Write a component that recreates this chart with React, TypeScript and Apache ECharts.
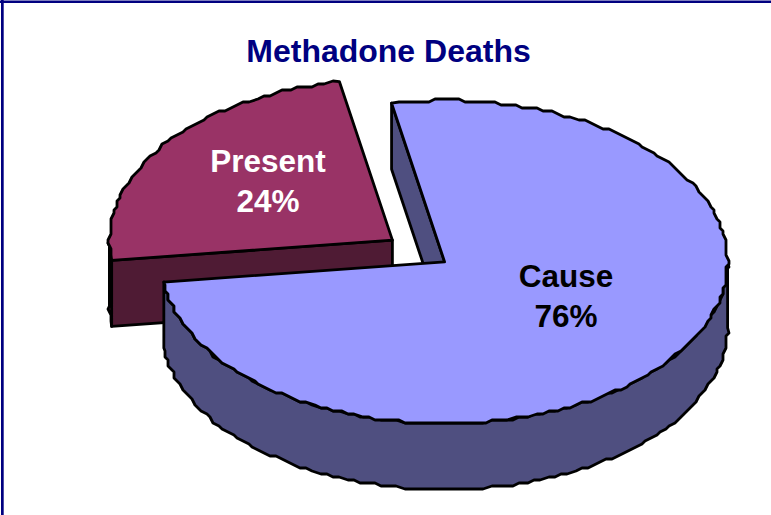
import React, { useEffect, useRef } from "react";
import * as echarts from "echarts";

const titleText = "Methadone Deaths";
const categories = ["Cause", "Present"];
const values = [76, 24];

const topColors = ["#9999FF", "#993366"];
const sideColors = ["#4F4F80", "#4F1B34"];
const labelColors = ["#000000", "#FFFFFF"];
const labelPositions: number[][] = [
  [566, 296],
  [268, 181],
];

const FONT = '"Liberation Sans", Arial, sans-serif';
const W = 771;
const H = 515;
const CX = 418.5;
const CY = 251;
const RX = 283;
const RY = 161.5;
const DEPTH = 66;
const EXPLODE = 0.114;
const START_ANGLE = -10.8;
const STEP_X = 3;
const STEP_Y = 3;

const total = values.reduce((a, b) => a + b, 0);
const rad = (d: number) => (d * Math.PI) / 180;

function sliceRange(i: number): [number, number] {
  let a = START_ANGLE;
  for (let k = 0; k < i; k++) a += (values[k] / total) * 360;
  return [a, a + (values[i] / total) * 360];
}

function rimPoint(c: number[], a: number, dy: number, snap: boolean) {
  const x = c[0] + RX * Math.sin(rad(a));
  const y = c[1] - RY * Math.cos(rad(a));
  if (!snap) return [x, y + dy];
  return [Math.round(x / STEP_X) * STEP_X, Math.round(y / STEP_Y) * STEP_Y + dy];
}

function arcPoints(c: number[], a0: number, a1: number, dy: number) {
  const n = Math.max(2, Math.ceil(Math.abs(a1 - a0) / 1.5));
  const pts: number[][] = [rimPoint(c, a0, dy, false)];
  for (let k = 1; k < n; k++) {
    const p = rimPoint(c, a0 + ((a1 - a0) * k) / n, dy, true);
    const last = pts[pts.length - 1];
    if (p[0] !== last[0] || p[1] !== last[1]) pts.push(p);
  }
  pts.push(rimPoint(c, a1, dy, false));
  return pts;
}

function renderSlice(params: any) {
  const i = params.dataIndex;
  const [a0, a1] = sliceRange(i);
  const mid = (a0 + a1) / 2;
  const c = [
    CX + EXPLODE * RX * Math.sin(rad(mid)),
    CY - EXPLODE * RY * Math.cos(rad(mid)),
  ];
  const z2 = categories.length - i;
  const line = { stroke: "#000000", lineWidth: 2.8, lineJoin: "round" };
  const children: any[] = [];
  const wall = (a: number) => {
    const e = rimPoint(c, a, 0, false);
    children.push({
      type: "polygon",
      z2,
      shape: { points: [c, e, [e[0], e[1] + DEPTH], [c[0], c[1] + DEPTH]] },
      style: { fill: sideColors[i], ...line },
    });
  };
  if (Math.sin(rad(a0)) < 0) wall(a0);
  if (Math.sin(rad(a1)) > 0) wall(a1);
  const w0 = Math.max(a0, 90);
  const w1 = Math.min(a1, 270);
  if (w1 > w0) {
    const top = arcPoints(c, w0, w1, 0);
    const bottom = arcPoints(c, w0, w1, DEPTH).reverse();
    children.push({
      type: "polygon",
      z2,
      shape: { points: [...top, ...bottom] },
      style: { fill: sideColors[i], ...line },
    });
  }
  children.push({
    type: "polygon",
    z2,
    shape: { points: [c, ...arcPoints(c, a0, a1, 0)] },
    style: { fill: topColors[i], ...line },
  });
  children.push({
    type: "text",
    z2: z2 + 10,
    style: {
      text: `${categories[i]}\n${Math.round((values[i] / total) * 100)}%`,
      x: labelPositions[i][0],
      y: labelPositions[i][1],
      align: "center",
      verticalAlign: "middle",
      fontFamily: FONT,
      fontWeight: "bold",
      fontSize: 31.5,
      lineHeight: 40,
      fill: labelColors[i],
    },
  });
  return { type: "group", children };
}

export default function App() {
  const ref = useRef<HTMLDivElement>(null);
  useEffect(() => {
    document.body.style.margin = "0";
    const chart = echarts.init(ref.current!, null, { renderer: "svg", width: W, height: H });
    chart.setOption({
      animation: false,
      backgroundColor: "#FFFFFF",
      title: {
        text: titleText,
        left: 388.5,
        top: 35,
        padding: 0,
        textAlign: "center",
        textStyle: { fontFamily: FONT, fontWeight: "bold", fontSize: 32, color: "#000080" },
      },
      graphic: [
        { type: "rect", shape: { x: 0, y: 0.5, width: W, height: 2.5 }, style: { fill: "#000080" } },
        { type: "rect", shape: { x: 1, y: 0, width: 2.7, height: H }, style: { fill: "#000080" } },
      ],
      series: [
        {
          type: "custom",
          coordinateSystem: "none",
          silent: true,
          renderItem: renderSlice,
          data: categories.map((name, i) => ({ name, value: values[i] })),
        },
      ],
    });
    return () => chart.dispose();
  }, []);
  return <div ref={ref} style={{ width: W, height: H, overflow: "hidden" }} />;
}
